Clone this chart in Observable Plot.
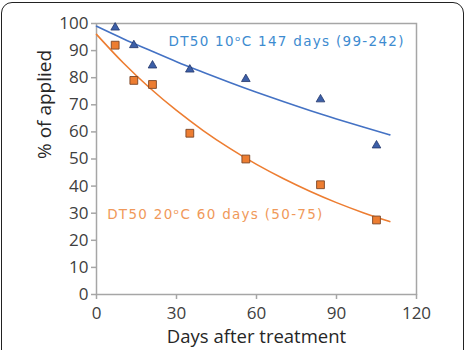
<!DOCTYPE html>
<html>
<head>
<meta charset="utf-8">
<script src="https://cdn.jsdelivr.net/npm/d3@7"></script>
<script src="https://cdn.jsdelivr.net/npm/@observablehq/plot@0.6"></script>
<style>
  html, body { margin: 0; padding: 0; background: #fff; overflow: hidden; }
  #wrap { position: relative; width: 469px; height: 350px; }
  #border {
    position: absolute; left: 1px; top: 2px; width: 463px; height: 400px;
    border: 1.5px solid #222; border-radius: 11px; box-sizing: border-box;
  }
  #chart { position: absolute; left: 0; top: 0; }
  .note text { letter-spacing: 1.3px; }
</style>
</head>
<body>
<div id="wrap">
  <div id="border"></div>
  <div id="chart"></div>
</div>
<script>
// Sampling days after treatment
const days = [7, 14, 21, 35, 56, 84, 105];
// Residue remaining (% of applied) at 10 °C and 20 °C
const applied10 = [98.5, 92, 84.5, 83, 79.5, 72, 55];
const applied20 = [92, 79, 77.5, 59.5, 50, 40.5, 27.5];

// Fitted first-order decay curves
const fitDays = [0, 10, 20, 30, 40, 50, 60, 70, 80, 90, 100, 110];
const fit10 = [99, 94.4, 90.1, 85.9, 82.0, 78.2, 74.6, 71.2, 67.9, 64.8, 61.8, 58.9];
const fit20 = [96, 85.5, 76.2, 67.9, 60.5, 53.9, 48.0, 42.8, 38.1, 33.9, 30.2, 26.9];

const label10 = "DT50 10ᵒC 147 days (99-242)";
const label20 = "DT50 20ᵒC 60 days (50-75)";

const xTicks = [0, 30, 60, 90, 120];
const yTicks = [0, 10, 20, 30, 40, 50, 60, 70, 80, 90, 100];

const obs10 = days.map((d, i) => ({day: d, value: applied10[i]}));
const obs20 = days.map((d, i) => ({day: d, value: applied20[i]}));
const curve10 = fitDays.map((d, i) => ({day: d, value: fit10[i]}));
const curve20 = fitDays.map((d, i) => ({day: d, value: fit20[i]}));

const axisFont = "'Open Sans', sans-serif";
const grey = "#a6a6a6";
const noteFont = {fontSize: 13.5, fontFamily: "'DejaVu Sans', sans-serif", className: "note"};

const chart = Plot.plot({
  width: 469,
  height: 350,
  marginLeft: 96,
  marginRight: 53,
  marginTop: 23,
  marginBottom: 56,
  style: {fontFamily: axisFont, fontSize: "17px", color: "#404040", background: "transparent"},
  x: {domain: [0, 120]},
  y: {domain: [0, 100]},
  marks: [
    Plot.frame({stroke: grey, strokeWidth: 1.5}),
    Plot.axisX({
      ticks: xTicks, tickSize: 5, tickPadding: 7, stroke: grey, strokeWidth: 1.5,
      fontSize: 17, fill: "#404040",
      label: null
    }),
    Plot.axisY({
      ticks: yTicks, tickSize: 5, tickPadding: 3, stroke: grey, strokeWidth: 1.5,
      fontSize: 17, fill: "#404040",
      label: null
    }),
    // axis titles
    Plot.text(["Days after treatment"], {
      frameAnchor: "bottom", dy: 48, text: d => d, fontSize: 18.5, fill: "#262626", lineAnchor: "bottom"
    }),
    Plot.text(["% of applied"], {
      frameAnchor: "left", dx: -52, rotate: -90, text: d => d, fontSize: 19, fill: "#262626"
    }),
    Plot.line(curve10, {x: "day", y: "value", curve: "natural", stroke: "#4472c4", strokeWidth: 1.6}),
    Plot.line(curve20, {x: "day", y: "value", curve: "natural", stroke: "#ed7d31", strokeWidth: 1.6}),
    Plot.dot(obs10, {x: "day", y: "value", symbol: "triangle", r: 3.2, fill: "#3c5fa8", stroke: "#23366a", strokeWidth: 0.8}),
    Plot.dot(obs20, {x: "day", y: "value", symbol: "square", r: 4.4, fill: "#ed7d31", stroke: "#7a4526", strokeWidth: 0.9}),
    Plot.text([label10], {x: 27, y: 93.3, text: d => d, textAnchor: "start", fill: "#3d8bd0", ...noteFont}),
    Plot.text([label20], {x: 4, y: 29.5, text: d => d, textAnchor: "start", fill: "#f0995a", ...noteFont})
  ]
});
document.getElementById("chart").appendChild(chart);
</script>
</body>
</html>
